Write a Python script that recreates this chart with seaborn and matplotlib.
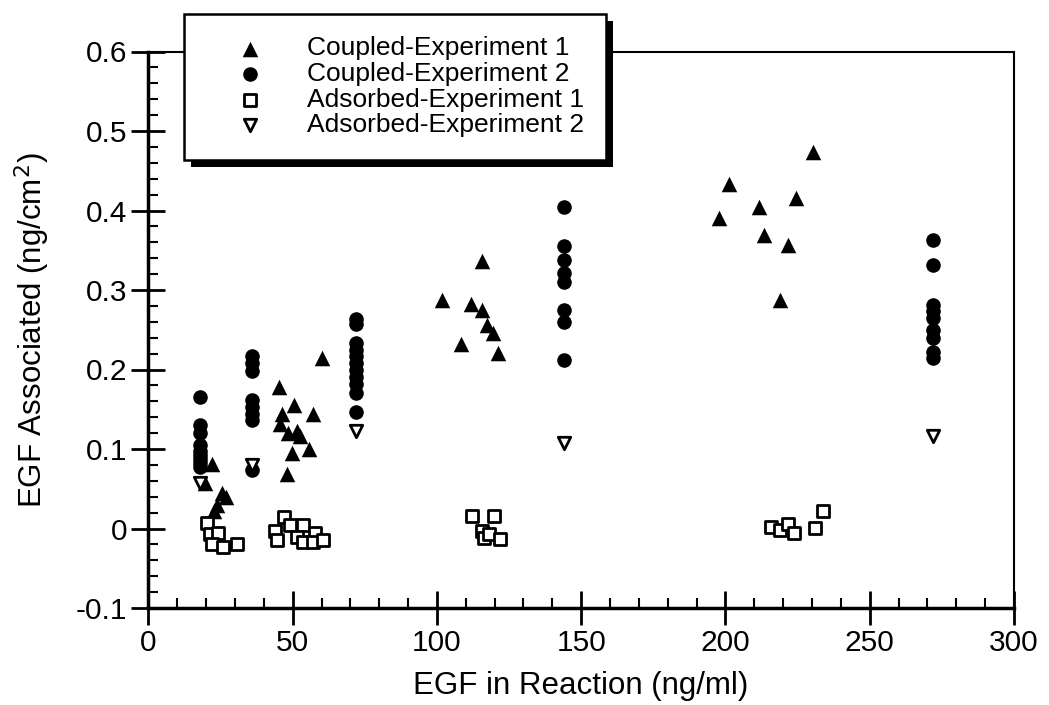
import matplotlib
matplotlib.use("Agg")
import matplotlib.pyplot as plt
import matplotlib.transforms as mtransforms
from matplotlib.patches import Rectangle
from matplotlib.ticker import MultipleLocator, FuncFormatter
import seaborn as sns

# ---------------- data ----------------
coupled1_x = [22.0, 19.6, 25.4, 26.9, 23.7, 22.8,
              60.1, 45.1, 50.6, 57.2, 46.2, 45.6, 48.5, 51.4, 52.6, 49.7, 55.5, 48.0,
              101.7, 111.8, 115.6, 115.6, 117.3, 119.4, 108.3, 121.2,
              230.3, 201.4, 224.5, 211.5, 197.7, 213.3, 221.7, 218.8]
coupled1_y = [0.081, 0.057, 0.045, 0.040, 0.030, 0.022,
              0.215, 0.178, 0.155, 0.144, 0.144, 0.131, 0.120, 0.123, 0.116, 0.095, 0.100, 0.068,
              0.288, 0.282, 0.337, 0.275, 0.256, 0.246, 0.232, 0.221,
              0.473, 0.433, 0.416, 0.404, 0.390, 0.369, 0.356, 0.287]

coupled2_x = [18] * 9 + [36] * 8 + [72] * 11 + [144] * 8 + [272] * 9
coupled2_y = [0.165, 0.130, 0.120, 0.105, 0.098, 0.092, 0.087, 0.082, 0.077,
              0.217, 0.208, 0.198, 0.162, 0.153, 0.144, 0.136, 0.073,
              0.264, 0.257, 0.233, 0.225, 0.217, 0.208, 0.199, 0.190, 0.182, 0.170, 0.146,
              0.405, 0.355, 0.338, 0.322, 0.310, 0.275, 0.260, 0.212,
              0.363, 0.332, 0.281, 0.273, 0.265, 0.250, 0.240, 0.222, 0.214]

adsorbed1_x = [20.2, 21.4, 24.2, 22.0, 26.0, 30.6,
               43.9, 44.5, 47.0, 49.1, 53.5, 51.4, 53.7, 57.8, 57.2, 60.5,
               112.1, 119.9, 115.6, 116.4, 118.2, 122.0,
               215.8, 218.8, 221.7, 223.7, 231.0, 233.8]
adsorbed1_y = [0.007, -0.007, -0.006, -0.020, -0.023, -0.020,
               -0.003, -0.015, 0.014, 0.004, 0.004, -0.011, -0.017, -0.006, -0.017, -0.014,
               0.016, 0.016, -0.003, -0.012, -0.007, -0.013,
               0.002, -0.002, 0.006, -0.006, 0.001, 0.022]

adsorbed2_x = [18, 36, 72, 144, 272]
adsorbed2_y = [0.057, 0.080, 0.123, 0.108, 0.116]

series_labels = ["Coupled-Experiment 1", "Coupled-Experiment 2",
                 "Adsorbed-Experiment 1", "Adsorbed-Experiment 2"]
x_ticks = [0, 50, 100, 150, 200, 250, 300]
y_ticks = [-0.1, 0, 0.1, 0.2, 0.3, 0.4, 0.5, 0.6]

# ---------------- style ----------------
sns.set_style("ticks")
plt.rcParams["font.family"] = ["Liberation Sans", "DejaVu Sans"]
plt.rcParams["axes.unicode_minus"] = False
plt.rcParams["text.color"] = "black"

W, H = 1049, 705
fig = plt.figure(figsize=(W / 100, H / 100), dpi=100)
ax = fig.add_axes([148.4 / W, 1 - 608 / H, 865.5 / W, 556.5 / H])

sns.scatterplot(x=coupled1_x, y=coupled1_y, marker="^", s=125, color="black",
                linewidth=0, label=series_labels[0], ax=ax, zorder=3)
sns.scatterplot(x=coupled2_x, y=coupled2_y, marker="o", s=110, color="black",
                linewidth=0, label=series_labels[1], ax=ax, zorder=3)
sns.scatterplot(x=adsorbed1_x, y=adsorbed1_y, marker="s", s=75, facecolor="white",
                edgecolor="black", linewidth=2.0, label=series_labels[2], ax=ax, zorder=3)
sns.scatterplot(x=adsorbed2_x, y=adsorbed2_y, marker="v", s=80, facecolor="white",
                edgecolor="black", linewidth=2.0, label=series_labels[3], ax=ax, zorder=3)

ax.set_xlim(0, 300)
ax.set_ylim(-0.1, 0.6)
ax.set_xticks(x_ticks)
ax.set_yticks(y_ticks)
ax.xaxis.set_minor_locator(MultipleLocator(10))
ax.yaxis.set_minor_locator(MultipleLocator(0.02))
ax.yaxis.set_major_formatter(FuncFormatter(lambda v, p: f"{v:g}" if abs(v) > 1e-9 else "0"))

ax.tick_params(which="major", direction="inout", length=24, width=2, color="black",
               labelsize=21.5, labelcolor="black", pad=3)
ax.tick_params(which="minor", direction="in", length=7, width=1.5, color="black")
ax.tick_params(top=False, right=False, which="both")

for side in ["left", "bottom"]:
    ax.spines[side].set_linewidth(2.5)
for side in ["top", "right"]:
    ax.spines[side].set_linewidth(1.5)
for sp in ax.spines.values():
    sp.set_color("black")

ax.set_xlabel("EGF in Reaction (ng/ml)", fontsize=22.5, color="black", labelpad=10)
ax.set_ylabel("EGF Associated (ng/cm$^2$)", fontsize=22.5, color="black", labelpad=17)

leg = ax.legend(loc="upper left", bbox_to_anchor=(184 / W, 1 - 14 / H),
                bbox_transform=fig.transFigure, borderaxespad=0, fontsize=19,
                frameon=True, fancybox=False, framealpha=1, edgecolor="black",
                facecolor="white", borderpad=0.85, handlelength=3.3, handletextpad=0.5,
                labelspacing=0.06, scatterpoints=1, labelcolor="black")
leg.get_frame().set_linewidth(1.8)
leg.set_zorder(10)

fig.canvas.draw()
bb = leg.get_frame().get_window_extent()
shadow = Rectangle((bb.x0 + 7, bb.y0 - 7), bb.width, bb.height,
                   transform=mtransforms.IdentityTransform(), facecolor="black",
                   edgecolor="none", clip_on=False, zorder=9)
ax.add_artist(shadow)

ax.set_xlim(0, 300)
ax.set_ylim(-0.1, 0.6)

fig.savefig("out.png", dpi=100, facecolor="white")
